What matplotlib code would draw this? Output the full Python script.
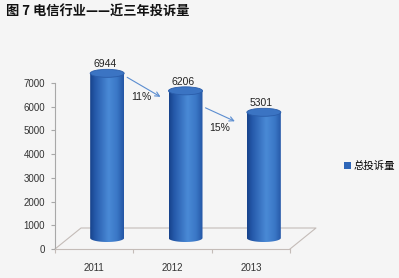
import numpy as np
import matplotlib.pyplot as plt
from matplotlib.patches import Ellipse, PathPatch, Patch
from matplotlib.path import Path
from matplotlib.colors import LinearSegmentedColormap

years = ['2011', '2012', '2013']
complaints = [6944, 6206, 5301]
yticks = [0, 1000, 2000, 3000, 4000, 5000, 6000, 7000]

title = '图 7 电信行业——近三年投诉量'
series_name = '总投诉量'

plt.rcParams['font.family'] = ['Liberation Sans', 'Noto Sans CJK SC']

W, H = 399, 278
fig = plt.figure(figsize=(W / 100, H / 100), dpi=100, facecolor='#f5f5f5')

# pixels per data unit, used for the fake 3d depth
sx = 235 / 3
sy = 166 / 7000
ymax = 8000  # headroom so caps and labels are not clipped

ax = fig.add_axes([55 / W, 29 / H, 235 / W, ymax * sy / H])
ax.set_facecolor('none')

floor_dx, floor_dy = 26 / sx, 21 / sy
bar_dx, bar_dy = 13 / sx, 11 / sy
bw, bh = 17 / sx, 4 / sy

grid_col = '#c4bcb8'
# floor of the 3d plot
ax.plot([-0.5, -0.5 + floor_dx, 2.5 + floor_dx, 2.5],
        [0, floor_dy, floor_dy, 0], color=grid_col, lw=0.8, zorder=1,
        clip_on=False)

cyl = LinearSegmentedColormap.from_list('cyl', [
    (0.0, '#17428a'), (0.15, '#2559aa'), (0.55, '#4a8ad6'),
    (0.8, '#3a77c6'), (1.0, '#2455a4')])
grad = np.linspace(0, 1, 256)[None, :]

for i, v in enumerate(complaints):
    cx = i + bar_dx
    base = bar_dy
    top = base + v
    t = np.linspace(np.pi, 2 * np.pi, 40)
    verts = list(zip(cx + bw * np.cos(t), base + bh * np.sin(t)))
    verts += [(cx + bw, top), (cx - bw, top), (cx - bw, base)]
    codes = [Path.MOVETO] + [Path.LINETO] * (len(verts) - 2) + [Path.CLOSEPOLY]
    body = PathPatch(Path(verts, codes), facecolor='none', edgecolor='none')
    ax.add_patch(body)
    im = ax.imshow(grad, cmap=cyl, aspect='auto', interpolation='bicubic',
                   extent=[cx - bw, cx + bw, base - bh, top], zorder=2)
    im.set_clip_path(body)
    cap = Ellipse((cx, top), 2 * bw, 2 * bh, facecolor='#3b74c3',
                  edgecolor='#2a5daa', lw=0.6, zorder=3)
    ax.add_patch(cap)
    ax.text(cx - 0.03, top + 9 / sy, str(v), ha='center', va='center',
            fontsize=7.5, color='#222222', zorder=4)

# year-on-year drop arrows
start_drop = [4, 17]
end_drop = [6, 9]
end_gap = [8, 12]
for i in range(len(complaints) - 1):
    x0 = i + bar_dx + bw + 3 / sx
    y0 = bar_dy + complaints[i] - start_drop[i] / sy
    x1 = i + 1 + bar_dx - bw - end_gap[i] / sx
    y1 = bar_dy + complaints[i + 1] - end_drop[i] / sy
    ax.annotate('', xy=(x1, y1), xytext=(x0, y0),
                arrowprops=dict(arrowstyle='->', color='#5b8dd0', lw=0.8,
                                shrinkA=0, shrinkB=0, mutation_scale=8),
                zorder=4)
    pct = round((complaints[i] - complaints[i + 1]) / complaints[i] * 100)
    ax.text(x0 + 14 / sx, y0 - 20 / sy, f'{pct}%', ha='center', va='center',
            fontsize=7.5, color='#222222')

ax.set_xlim(-0.5, 2.5)
ax.set_ylim(0, ymax)

for s in ['top', 'right']:
    ax.spines[s].set_visible(False)
ax.spines['left'].set_color('#a8a8a8')
ax.spines['left'].set_linewidth(0.8)
ax.spines['left'].set_bounds(0, 7000)
ax.spines['bottom'].set_color(grid_col)
ax.spines['bottom'].set_linewidth(0.8)

ax.set_yticks(yticks)
ax.tick_params(axis='y', length=3, width=0.8, color='#a8a8a8',
               labelsize=7, labelcolor='#333333', pad=4)
ax.set_xticks(range(len(years)))
ax.set_xticklabels(years)
ax.set_xticks([-0.5, 0.5, 1.5, 2.5], minor=True)
ax.tick_params(axis='x', which='major', length=0, labelsize=7,
               labelcolor='#333333', pad=10)
ax.tick_params(axis='x', which='minor', length=3, width=0.8, color=grid_col)

fig.legend(handles=[Patch(facecolor='#2e66b8')], labels=[series_name],
           loc='center left', bbox_to_anchor=(335 / W, 1 - 166 / H),
           frameon=False, handlelength=0.6, handleheight=0.6,
           handletextpad=0.3,
           prop={'family': ['Noto Sans CJK SC'], 'size': 7.5})

fig.text(6 / W, 1 - 12 / H, title, family=['Noto Sans CJK SC'],
         fontsize=9.5, weight='bold', va='center', color='#111111')

fig.savefig('out.png', dpi=100, facecolor=fig.get_facecolor())
